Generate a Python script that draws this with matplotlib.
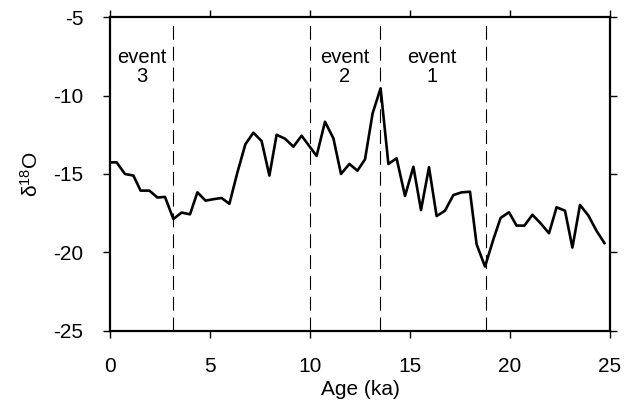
import numpy as np
import matplotlib.pyplot as plt

plt.rcParams['font.family'] = ['Liberation Sans', 'DejaVu Sans']
plt.rcParams['axes.unicode_minus'] = False
plt.rcParams['mathtext.default'] = 'regular'
plt.rcParams['lines.scale_dashes'] = False

# age (ka) and delta 18O
age = [0.08, 0.33, 0.75, 1.17, 1.53, 1.97, 2.37, 2.75, 3.17, 3.58, 4.0, 4.37,
       4.78, 5.2, 5.58, 5.97, 6.37, 6.77, 7.17, 7.58, 7.97, 8.33, 8.75, 9.17,
       9.58, 10.33, 10.75, 11.17, 11.55, 11.97, 12.37, 12.75, 13.13, 13.53,
       13.92, 14.33, 14.75, 15.17, 15.55, 15.95, 16.33, 16.75, 17.17, 17.58,
       18.0, 18.33, 18.75, 19.17, 19.53, 19.95, 20.33, 20.72, 21.12, 21.53,
       21.95, 22.33, 22.75, 23.12, 23.5, 23.92, 24.33, 24.72]
d18o = [-14.26, -14.26, -15.0, -15.1, -16.06, -16.06, -16.5, -16.46, -17.87,
        -17.46, -17.57, -16.17, -16.7, -16.6, -16.53, -16.9, -14.9, -13.1,
        -12.37, -12.9, -15.1, -12.5, -12.75, -13.26, -12.56, -13.85, -11.67,
        -12.73, -15.0, -14.36, -14.79, -14.07, -11.14, -9.54, -14.36, -14.0,
        -16.4, -14.54, -17.3, -14.57, -17.68, -17.34, -16.34, -16.17, -16.13,
        -19.48, -20.9, -19.16, -17.8, -17.44, -18.29, -18.29, -17.6, -18.14,
        -18.78, -17.12, -17.34, -19.69, -16.97, -17.65, -18.63, -19.4]

event_bounds = [3.17, 10.0, 13.5, 18.8]
event_labels = ['event\n3', 'event\n2', 'event\n1']
event_x = [1.6, 11.75, 16.1]


def main(filename='out.png'):
    fig = plt.figure(figsize=(6.25, 4.07), dpi=100)
    ax = fig.add_axes([0.176, 0.187, 0.8, 0.771])

    ax.plot(age, d18o, color='black', linewidth=1.9)
    for b in event_bounds:
        ax.plot([b, b], [-25, -5.32], color='black', linewidth=0.8,
                dashes=(10, 5))
    for x, l in zip(event_x, event_labels):
        ax.text(x, -8.2, l, ha='center', va='center', fontsize=14.5,
                linespacing=1.0)

    ax.set_xlim(0, 25)
    ax.set_ylim(-25, -5)
    ax.set_xticks(np.arange(0, 26, 5))
    ax.set_yticks(np.arange(-25, -4, 5))
    ax.tick_params(direction='out', length=5, width=1.0, labelsize=15,
                   top=True, right=True)
    ax.tick_params(axis='x', pad=14)
    ax.tick_params(axis='y', pad=14)
    for s in ax.spines.values():
        s.set_linewidth(1.6)

    ax.set_xlabel('Age (ka)', fontsize=15, labelpad=3)
    ax.set_ylabel('δ$^{18}$O', fontsize=15, labelpad=8)

    fig.savefig(filename, dpi=100)


if __name__ == "__main__":
    main()
